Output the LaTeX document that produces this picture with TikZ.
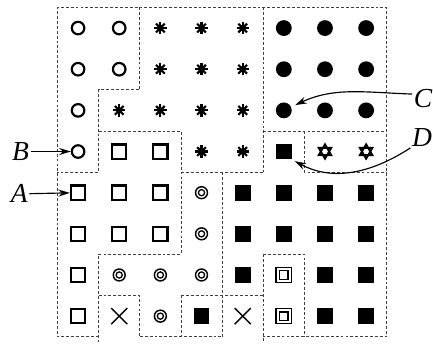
\documentclass[tikz,border=0pt]{standalone}
\usepackage{fontspec}
\setmainfont{Liberation Serif}
\usepackage{tikz}
\usetikzlibrary{arrows.meta}

\begin{document}
\begin{tikzpicture}[
  region/.style={draw=black!75, line width=.6pt, dash pattern=on 2pt off 1.4pt},
  lbl/.style={font=\fontsize{19}{19}\selectfont\itshape, inner sep=1pt},
  ocirc/.style={circle, draw, line width=1.5pt, minimum size=3.05mm, inner sep=0},
  fcirc/.style={circle, fill, minimum size=3.85mm, inner sep=0},
  osq/.style={draw, line width=1.5pt, minimum size=3.45mm, inner sep=0},
  fsq/.style={fill, minimum size=3.85mm, inner sep=0},
  dcirc/.style={circle, draw, line width=1pt, minimum size=2.9mm, inner sep=0,
    path picture={\draw[line width=.9pt] (path picture bounding box.center) circle (.75mm);}},
  dsq/.style={draw, line width=1pt, minimum size=3.7mm, inner sep=0,
    path picture={\coordinate (m) at (path picture bounding box.center);
      \draw[line width=1pt] ([shift={(-1.05mm,-1.05mm)}]m) rectangle ([shift={(1.05mm,1.05mm)}]m);}},
  xmark/.style={minimum size=4.6mm, inner sep=0,
    path picture={\coordinate (m) at (path picture bounding box.center);
      \draw[line width=1pt] ([shift={(-1.95mm,-1.95mm)}]m) -- ([shift={(1.95mm,1.95mm)}]m);
      \draw[line width=1pt] ([shift={(-1.95mm,1.95mm)}]m) -- ([shift={(1.95mm,-1.95mm)}]m);}},
  ast/.style={circle, minimum size=4.5mm, inner sep=0,
    path picture={\coordinate (m) at (path picture bounding box.center);
      \foreach \a in {0,45,90,135} \draw[line width=1.5pt] ([shift={(\a:1.5mm)}]m) -- ([shift={(\a+180:1.5mm)}]m);
      \fill (m) circle (.8mm);}},
  dstar/.style={circle, minimum size=5.5mm, inner sep=0,
    path picture={\coordinate (m) at (path picture bounding box.center);
      \draw[line width=1.3pt] ([shift={(90:1.75mm)}]m) -- ([shift={(210:1.75mm)}]m) -- ([shift={(330:1.75mm)}]m) -- cycle;
      \draw[line width=1.3pt] ([shift={(270:1.75mm)}]m) -- ([shift={(30:1.75mm)}]m) -- ([shift={(150:1.75mm)}]m) -- cycle;}},
  >={Stealth[length=2.8mm, width=1.7mm]}]
\useasboundingbox (-1.397,0.182) rectangle (9.125,-8.25);
% symbols, one row of cells at a time
\foreach \row [count=\j from 0] in {
  {ocirc,ocirc,ast,ast,ast,fcirc,fcirc,fcirc},
  {ocirc,ocirc,ast,ast,ast,fcirc,fcirc,fcirc},
  {ocirc,ast,ast,ast,ast,fcirc,fcirc,fcirc},
  {ocirc,osq,osq,ast,ast,fsq,dstar,dstar},
  {osq,osq,osq,dcirc,fsq,fsq,fsq,fsq},
  {osq,osq,osq,dcirc,fsq,fsq,fsq,fsq},
  {osq,dcirc,dcirc,dcirc,fsq,dsq,fsq,fsq},
  {osq,xmark,dcirc,fsq,xmark,dsq,fsq,fsq}}
  \foreach \t [count=\i from 0] in \row
    \node[\t] (s-\i-\j) at (\i+.5,-\j-.5) {};
% region borders, each edge once
\draw[region] (1,-8) -- (0,-8) -- (0,0) -- (8,0) -- (8,-8) -- (5,-8) (2,-8) -- (4,-8);
\draw[region] (2,0) -- (2,-2) -- (1,-2) -- (1,-4) -- (0,-4);
\draw[region] (1,-3) -- (3,-3) -- (3,-6) -- (1,-6) -- (1,-8.12);
\draw[region] (3,-4) -- (5,-4) (5,0) -- (5,-4) (5,-3) -- (8,-3) (6,-3) -- (6,-4) -- (8,-4);
\draw[region] (1,-7) -- (2,-7) -- (2,-8) (4,-4) -- (4,-8) (3,-7) -- (5,-7) (3,-7) -- (3,-8);
\draw[region] (5,-6) -- (5,-8.12) (5,-6) -- (6,-6) -- (6,-8);
% labels
\node[lbl] (B) at (-0.9,-3.5) {B};
\node[lbl] (A) at (-0.93,-4.53) {A};
\node[lbl] (C) at (8.88,-2.2) {C};
\node[lbl] (D) at (8.86,-3.15) {D};
\draw[->, line width=.8pt] (B) -- (s-0-3);
\draw[->, line width=.8pt] (A) -- (s-0-4);
\draw[->, line width=.8pt, shorten >=3pt] (C.160) to[out=178, in=25] (s-5-2);
\draw[->, line width=.8pt, shorten >=2pt] (D.south west) to[out=213, in=-28] (s-5-3.south east);
\end{tikzpicture}
\end{document}
